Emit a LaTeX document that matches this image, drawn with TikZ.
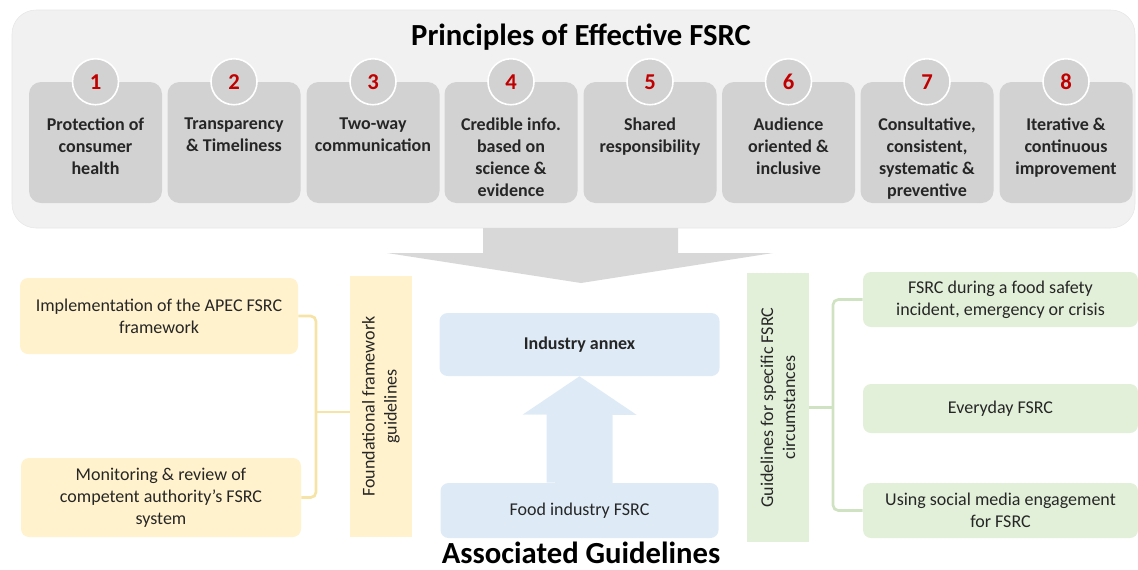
\documentclass[tikz,border=0pt]{standalone}
\usepackage{fontspec}
\setmainfont{Carlito}
\usetikzlibrary{positioning}

\definecolor{panelgray}{HTML}{F1F1F1}
\definecolor{panelline}{HTML}{E6E6E6}
\definecolor{boxgray}{HTML}{D2D2D2}
\definecolor{arrowgray}{HTML}{D8D8D8}
\definecolor{numred}{HTML}{C00000}
\definecolor{inkdark}{HTML}{262626}
\definecolor{paleyellow}{HTML}{FFF2CC}
\definecolor{yellowline}{HTML}{F6E3A6}
\definecolor{paleblue}{HTML}{DEEBF7}
\definecolor{palegreen}{HTML}{E2F0D9}
\definecolor{greenline}{HTML}{CFE3C2}

\tikzset{
  principlebox/.style={fill=boxgray, rounded corners=9pt, minimum width=133*0.75pt, minimum height=121*0.75pt, inner sep=0pt},
  numdisc/.style={circle, fill=boxgray, draw=white, line width=1.2pt, minimum size=46*0.75pt, inner sep=0pt, text=numred, font=\fontsize{17}{19}\selectfont\bfseries},
  principletext/.style={anchor=north, inner sep=0pt, align=center, text=inkdark, font=\fontsize{13.5}{16.5}\selectfont\bfseries},
  guidebox/.style={rounded corners=6pt, inner sep=0pt, align=center, text=inkdark, font=\fontsize{13.5}{16.5}\selectfont},
  yellowbox/.style={guidebox, fill=paleyellow},
  bluebox/.style={guidebox, fill=paleblue},
  greenbox/.style={guidebox, fill=palegreen, minimum width=275*0.75pt},
  guidebar/.style={inner sep=0pt, minimum width=62*0.75pt},
  bartext/.style={rotate=90, align=center, inner sep=0pt, text=inkdark, font=\fontsize{13.5}{16.5}\selectfont},
  headline/.style={anchor=base, inner sep=0pt, text=black, font=\fontsize{23}{27}\selectfont\bfseries},
  bracket/.style={line width=2pt, rounded corners=4pt},
}

\begin{document}
\begin{tikzpicture}[x=0.75pt, y=-0.75pt]
\useasboundingbox (0,0) rectangle (1138,569);

% principles panel
\draw (573.5,119) node[fill=panelgray, draw=panelline, rounded corners=18pt, minimum width=1123*0.75pt, minimum height=218*0.75pt] (panel) {};
\draw (581,45) node[headline] (ptitle) {Principles of Effective FSRC};

\draw (95.5,142.5) node[principlebox] (p1) {};
\draw (234,142.5) node[principlebox] (p2) {};
\draw (373,142.5) node[principlebox] (p3) {};
\draw (511,142.5) node[principlebox] (p4) {};
\draw (650,142.5) node[principlebox] (p5) {};
\draw (788.5,142.5) node[principlebox] (p6) {};
\draw (927,142.5) node[principlebox] (p7) {};
\draw (1066,142.5) node[principlebox] (p8) {};

\draw (p1.north) node[numdisc] (n1) {1};
\draw (p2.north) node[numdisc] (n2) {2};
\draw (p3.north) node[numdisc] (n3) {3};
\draw (p4.north) node[numdisc] (n4) {4};
\draw (p5.north) node[numdisc] (n5) {5};
\draw (p6.north) node[numdisc] (n6) {6};
\draw (p7.north) node[numdisc] (n7) {7};
\draw (p8.north) node[numdisc] (n8) {8};

\draw (p1.north) ++(0,36) node[principletext] (t1) {Protection of\\consumer\\health};
\draw (p2.north) ++(0,36) node[principletext] (t2) {Transparency\\\& Timeliness};
\draw (p3.north) ++(0,36) node[principletext] (t3) {Two-way\\communication};
\draw (p4.north) ++(0,36) node[principletext] (t4) {Credible info.\\based on\\science \&\\evidence};
\draw (p5.north) ++(0,36) node[principletext] (t5) {Shared\\responsibility};
\draw (p6.north) ++(0,36) node[principletext] (t6) {Audience\\oriented \&\\inclusive};
\draw (p7.north) ++(0,36) node[principletext] (t7) {Consultative,\\consistent,\\systematic \&\\preventive};
\draw (p8.north) ++(0,36) node[principletext] (t8) {Iterative \&\\continuous\\improvement};

% big arrow down
\fill[arrowgray] (483,228) -- (678,228) -- (678,253) -- (773,253) -- (581,283) -- (387,253) -- (483,253) -- cycle;

% foundational guidelines
\draw (159,316) node[yellowbox, minimum width=278*0.75pt, minimum height=76*0.75pt] (impl) {Implementation of the APEC FSRC\\framework};
\draw (161,497.5) node[yellowbox, minimum width=280*0.75pt, minimum height=79*0.75pt] (monit) {Monitoring \& review of\\competent authority's FSRC\\system};
\draw (381,406.5) node[guidebar, fill=paleyellow, minimum height=261*0.75pt] (found) {};
\draw (found.center) node[bartext] (foundtxt) {Foundational framework\\guidelines};

\coordinate (lfork) at (316,412);
\draw[bracket, yellowline] (impl.east) -| (lfork) |- (monit.east);
\draw[bracket, yellowline] (lfork) -- (lfork -| found.west);

% industry
\draw (579.5,344.5) node[bluebox, minimum width=280*0.75pt, minimum height=63*0.75pt, font=\fontsize{13.5}{16.5}\selectfont\bfseries] (annex) {Industry annex};
\draw (579.5,510.5) node[bluebox, minimum width=278*0.75pt, minimum height=55*0.75pt] (food) {Food industry FSRC};
\fill[paleblue] (food.north) ++(-33,0) -- ++(0,-68) -- ++(-24,0) -- (annex.south) -- ++(57,38.5) -- ++(-24,0) -- ++(0,68) -- cycle;

% specific circumstances
\draw (778,407.5) node[guidebar, fill=palegreen, minimum height=269*0.75pt] (circ) {};
\draw (circ.center) node[bartext] (circtxt) {Guidelines for specific FSRC\\circumstances};

\draw (1000.5,299.5) node[greenbox, minimum height=55*0.75pt] (fs1) {FSRC during a food safety\\incident, emergency or crisis};
\draw (1000.5,408.5) node[greenbox, minimum height=49*0.75pt] (fs2) {Everyday FSRC};
\draw (1000.5,510.5) node[greenbox, minimum height=55*0.75pt] (fs3) {Using social media engagement\\for FSRC};

\coordinate (rfork) at (833,407.5);
\draw[bracket, greenline] (fs1.west) -| (rfork) |- (fs3.west);
\draw[bracket, greenline] (circ.east) -- (rfork);

\draw (581,563) node[headline] (aglabel) {Associated Guidelines};
\end{tikzpicture}
\end{document}
